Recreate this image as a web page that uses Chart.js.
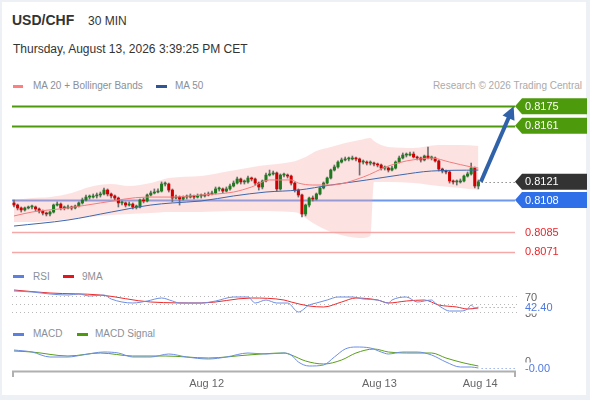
<!DOCTYPE html>
<html>
<head>
<meta charset="utf-8">
<script src="https://cdn.jsdelivr.net/npm/chart.js@4.4.1/dist/chart.umd.min.js"></script>
<style>
html, body { margin: 0; padding: 0; background: #edf1f5; width: 590px; height: 400px; overflow: hidden; }
#card { position: absolute; left: 2px; top: 2px; width: 584px; height: 393px; background: #fff; }
.t { position: absolute; white-space: nowrap; font-family: "Liberation Sans", Arial, sans-serif; line-height: 1; }
.sw { position: absolute; height: 3px; }
canvas { position: absolute; left: 0; }
</style>
</head>
<body>
<div id="card"></div>

<div class="t" style="left:12px;top:13px;font-size:14px;font-weight:bold;color:#333">USD/CHF</div>
<div class="t" style="left:88px;top:15px;font-size:12px;color:#333">30 MIN</div>
<div class="t" style="left:13px;top:43px;font-size:12px;color:#333">Thursday, August 13, 2026 3:39:25 PM CET</div>

<div class="sw" style="left:13px;top:85px;width:10px;background:#ff7f7f"></div>
<div class="t" style="left:33px;top:81px;font-size:10px;color:#8a8f99">MA 20 + Bollinger Bands</div>
<div class="sw" style="left:156px;top:85px;width:11px;background:#2f5597"></div>
<div class="t" style="left:175px;top:81px;font-size:10px;color:#8a8f99">MA 50</div>
<div class="t" style="right:8px;top:81px;font-size:10px;color:#aaa">Research © 2026 Trading Central</div>

<div class="sw" style="left:13px;top:275px;width:11px;background:#5b80e0"></div>
<div class="t" style="left:33px;top:272px;font-size:10px;color:#8a8f99">RSI</div>
<div class="sw" style="left:63px;top:275px;width:11px;background:#e8141b"></div>
<div class="t" style="left:82px;top:272px;font-size:10px;color:#8a8f99">9MA</div>

<div class="sw" style="left:13px;top:333px;width:11px;background:#5b80e0"></div>
<div class="t" style="left:33px;top:329px;font-size:10px;color:#8a8f99">MACD</div>
<div class="sw" style="left:77px;top:333px;width:11px;background:#4d9a0c"></div>
<div class="t" style="left:95px;top:329px;font-size:10px;color:#8a8f99">MACD Signal</div>

<canvas id="main" width="590" height="175" style="top:90px"></canvas>
<canvas id="rsi" width="590" height="31" style="top:286px"></canvas>
<canvas id="macd" width="590" height="60" style="top:340px"></canvas>

<script>
// 30 min candles, one per index
const opens = [
    0.81059,0.81044,0.81023,0.81009,0.81023,0.81030,0.81030,0.81016,0.81001,0.80987,
    0.80980,0.80994,0.81044,0.81051,0.81023,0.81023,0.81030,0.81023,0.81037,0.81059,
    0.81080,0.81101,0.81101,0.81109,0.81116,0.81123,0.81151,0.81123,0.81109,0.81094,
    0.81059,0.81059,0.81044,0.81051,0.81030,0.81030,0.81080,0.81073,0.81116,0.81130,
    0.81137,0.81144,0.81194,0.81194,0.81151,0.81094,0.81101,0.81087,0.81101,0.81101,
    0.81109,0.81101,0.81109,0.81109,0.81116,0.81123,0.81130,0.81159,0.81159,0.81144,
    0.81159,0.81180,0.81201,0.81230,0.81209,0.81209,0.81237,0.81230,0.81201,0.81173,
    0.81216,0.81258,0.81266,0.81273,0.81159,0.81258,0.81258,0.81251,0.81201,0.81151,
    0.81116,0.80980,0.81044,0.81094,0.81087,0.81123,0.81166,0.81201,0.81237,0.81294,
    0.81316,0.81351,0.81366,0.81373,0.81373,0.81380,0.81373,0.81351,0.81351,0.81344,
    0.81344,0.81337,0.81330,0.81308,0.81308,0.81294,0.81308,0.81351,0.81380,0.81401,
    0.81401,0.81408,0.81387,0.81380,0.81366,0.81394,0.81380,0.81380,0.81359,0.81301,
    0.81287,0.81280,0.81216,0.81209,0.81209,0.81216,0.81251,0.81266,0.81308,0.81180
];
const highs = [
    0.81080,0.81051,0.81030,0.81030,0.81037,0.81044,0.81037,0.81023,0.81009,0.80994,
    0.81001,0.81051,0.81066,0.81059,0.81037,0.81044,0.81037,0.81044,0.81066,0.81094,
    0.81116,0.81116,0.81123,0.81130,0.81137,0.81166,0.81159,0.81130,0.81116,0.81101,
    0.81073,0.81066,0.81066,0.81059,0.81044,0.81087,0.81094,0.81123,0.81144,0.81159,
    0.81159,0.81209,0.81209,0.81201,0.81159,0.81116,0.81109,0.81109,0.81116,0.81123,
    0.81116,0.81123,0.81123,0.81130,0.81137,0.81144,0.81173,0.81173,0.81166,0.81173,
    0.81194,0.81216,0.81244,0.81237,0.81223,0.81251,0.81244,0.81237,0.81209,0.81223,
    0.81273,0.81294,0.81287,0.81280,0.81266,0.81273,0.81266,0.81258,0.81209,0.81159,
    0.81123,0.81051,0.81101,0.81109,0.81130,0.81173,0.81209,0.81244,0.81301,0.81330,
    0.81359,0.81380,0.81387,0.81387,0.81394,0.81387,0.81380,0.81366,0.81359,0.81359,
    0.81351,0.81344,0.81337,0.81323,0.81316,0.81323,0.81359,0.81394,0.81416,0.81416,
    0.81423,0.81423,0.81394,0.81387,0.81401,0.81458,0.81394,0.81387,0.81366,0.81308,
    0.81294,0.81287,0.81223,0.81223,0.81230,0.81258,0.81280,0.81344,0.81316,0.81223
];
const lows = [
    0.81030,0.81009,0.80994,0.81001,0.81016,0.81016,0.81001,0.80987,0.80973,0.80966,
    0.80966,0.80987,0.81037,0.81009,0.81009,0.81016,0.81009,0.81016,0.81030,0.81051,
    0.81073,0.81087,0.81094,0.81094,0.81101,0.81116,0.81109,0.81094,0.81080,0.81030,
    0.81044,0.81030,0.81037,0.81016,0.81016,0.81023,0.81059,0.81066,0.81109,0.81123,
    0.81130,0.81137,0.81180,0.81137,0.81066,0.81087,0.81044,0.81080,0.81087,0.81094,
    0.81087,0.81094,0.81094,0.81101,0.81109,0.81116,0.81123,0.81144,0.81130,0.81137,
    0.81151,0.81173,0.81194,0.81194,0.81194,0.81201,0.81216,0.81187,0.81151,0.81159,
    0.81209,0.81251,0.81258,0.81144,0.81151,0.81244,0.81237,0.81187,0.81137,0.81101,
    0.80959,0.80966,0.81030,0.81073,0.81080,0.81116,0.81159,0.81194,0.81230,0.81287,
    0.81308,0.81344,0.81359,0.81359,0.81366,0.81359,0.81258,0.81337,0.81330,0.81330,
    0.81323,0.81316,0.81294,0.81294,0.81280,0.81287,0.81301,0.81344,0.81373,0.81387,
    0.81394,0.81380,0.81366,0.81351,0.81359,0.81373,0.81366,0.81351,0.81287,0.81273,
    0.81266,0.81201,0.81194,0.81187,0.81201,0.81209,0.81244,0.81258,0.81166,0.81159
];
const closes = [
    0.81044,0.81023,0.81009,0.81023,0.81030,0.81030,0.81016,0.81001,0.80987,0.80980,
    0.80994,0.81044,0.81051,0.81023,0.81023,0.81030,0.81023,0.81037,0.81059,0.81080,
    0.81101,0.81101,0.81109,0.81116,0.81123,0.81151,0.81123,0.81109,0.81094,0.81059,
    0.81059,0.81044,0.81051,0.81030,0.81030,0.81080,0.81073,0.81116,0.81130,0.81137,
    0.81144,0.81194,0.81194,0.81151,0.81094,0.81101,0.81087,0.81101,0.81101,0.81109,
    0.81101,0.81109,0.81109,0.81116,0.81123,0.81130,0.81159,0.81159,0.81144,0.81159,
    0.81180,0.81201,0.81230,0.81209,0.81209,0.81237,0.81230,0.81201,0.81173,0.81216,
    0.81258,0.81266,0.81273,0.81159,0.81258,0.81258,0.81251,0.81201,0.81151,0.81116,
    0.80980,0.81044,0.81094,0.81087,0.81123,0.81166,0.81201,0.81237,0.81294,0.81316,
    0.81351,0.81366,0.81373,0.81373,0.81380,0.81373,0.81351,0.81351,0.81344,0.81344,
    0.81337,0.81330,0.81308,0.81308,0.81294,0.81308,0.81351,0.81380,0.81401,0.81401,
    0.81408,0.81387,0.81380,0.81366,0.81394,0.81380,0.81380,0.81359,0.81301,0.81287,
    0.81280,0.81216,0.81209,0.81209,0.81216,0.81251,0.81266,0.81308,0.81180,0.81210
];

// MA 20 / MA 50 / Bollinger bands, read at candle indexes
const ma20Idx = [0, 5, 15, 24, 37, 44, 52, 61, 66, 71, 77, 79, 83, 88, 97, 104, 109, 113, 116, 121, 127, 129];
const ma20 = [0.80966, 0.80994, 0.81023, 0.81059, 0.81101, 0.81101, 0.81116, 0.81137, 0.81173, 0.81223, 0.81223,
    0.81201, 0.81187, 0.81187, 0.81244, 0.81323, 0.81359, 0.81373, 0.81380, 0.81351, 0.81316, 0.81308];
const ma50Idx = [0, 15, 27, 38, 44, 52, 61, 70, 79, 88, 98, 107, 116, 129];
const ma50 = [0.80894, 0.80937, 0.80994, 0.81044, 0.81059, 0.81073, 0.81109, 0.81137, 0.81151, 0.81187, 0.81223,
    0.81258, 0.81287, 0.81294];
const bbIdx = [0, 5, 10, 16, 21, 27, 32, 38, 43, 52, 60, 68, 77, 79, 81, 84, 88, 92, 96, 99, 100, 104, 111, 118, 124, 129];
const bbUpper = [0.81080, 0.81094, 0.81101, 0.81130, 0.81173, 0.81194, 0.81180, 0.81201, 0.81237, 0.81251, 0.81287,
    0.81323, 0.81351, 0.81366, 0.81387, 0.81430, 0.81458, 0.81487, 0.81508, 0.81523, 0.81501, 0.81458, 0.81451,
    0.81473, 0.81473, 0.81466];
const bbLower = [0.80923, 0.80923, 0.80930, 0.80944, 0.80959, 0.80973, 0.80980, 0.80987, 0.80994, 0.80994, 0.81001,
    0.81001, 0.80994, 0.80987, 0.80951, 0.80901, 0.80852, 0.80823, 0.80809, 0.80823, 0.81209, 0.81209, 0.81201,
    0.81180, 0.81166, 0.81151];

// key levels
const levels = [0.8175, 0.8161, 0.8108, 0.8085, 0.8071];
const levelKinds = ['resistance', 'resistance', 'pivot', 'support', 'support'];
const lastPrice = 0.8121;
const arrowTarget = 0.8175;
const arrowEndIdx = 138.8;

// RSI and its 9 period average
const rsiIdx = [0, 5, 10, 15, 18, 21, 25, 27, 33, 37, 41, 44, 46, 52, 56, 61, 65, 67, 70, 73, 76, 79, 82, 84, 87, 90,
    94, 97, 101, 104, 105, 109, 112, 116, 117, 119, 121, 124, 126, 127, 128, 129];
const rsi = [82.5, 80, 75, 72.5, 75, 70, 72.5, 62.5, 52.5, 57.5, 65, 57.5, 52.5, 52.5, 57.5, 67.5, 67.5, 52.5, 60, 52.5,
    52.5, 30, 47.5, 52.5, 60, 67.5, 67.5, 62.5, 60, 52.5, 60, 67.5, 55, 60, 52.5, 40, 32.5, 32.5, 37.5, 47.5, 40, 42.4];
const rsiMaIdx = [0, 10, 24, 38, 52, 66, 75, 77, 82, 86, 91, 95, 101, 104, 109, 114, 118, 123, 126, 129];
const rsiMa = [85, 77.5, 72.5, 55, 52.5, 65, 60, 55, 45, 42.5, 55, 65, 60, 52.5, 57.5, 60, 47.5, 42.5, 37.5, 40];
const rsiLevels = [70, 50, 30];
const rsiTicks = [70, 30];

// MACD
const macdIdx = [0, 5, 10, 15, 19, 25, 29, 33, 38, 43, 48, 54, 59, 65, 70, 75, 77, 79, 82, 86, 89, 92, 95, 99, 102, 104,
    108, 112, 116, 120, 124, 127, 129];
const macd = [0.0006, 0.0005, 0.00025, 0.00025, 0.00035, 0.0005, 0.00045, 0.00025, 0.00025, 0.0004, 0.00025, 0.00015,
    0.00025, 0.00045, 0.0004, 0.00045, 0.00035, 0, -0.0002, -0.00015, 0.00025, 0.00065, 0.00075, 0.0007, 0.0005, 0.0004,
    0.0005, 0.0005, 0.00035, 0, -0.00025, -0.00025, -0.0003];
const signalIdx = [0, 5, 15, 24, 33, 42, 54, 65, 75, 77, 81, 86, 91, 95, 100, 104, 109, 116, 120, 125, 129];
const signal = [0.00055, 0.0005, 0.0003, 0.00045, 0.0003, 0.0003, 0.0002, 0.00035, 0.00045, 0.00035, 0.00005, -0.0001,
    0.0001, 0.00045, 0.00065, 0.0005, 0.00045, 0.00045, 0.0002, -0.00005, -0.0002];

// time axis
const dayTicks = [53.5, 101.5, 129.5];
const dayLabels = ['Aug 12', 'Aug 13', 'Aug 14'];

const X_MIN = -0.55, X_MAX = 139.45;
const FONT = '11px "Liberation Sans", Arial, sans-serif';
const UP = '#1f7a1f', DOWN = '#d10000';
const BLUE_TXT = '#4f78e0';

const pts = (xs, ys) => xs.map((x, k) => ({ x, y: ys[k] }));
const lastIdx = closes.length - 1;

function baseOptions(yMin, yMax, padBottom) {
    return {
        responsive: false,
        animation: false,
        events: [],
        layout: { padding: { left: 12, right: 74, top: 0, bottom: padBottom } },
        scales: {
            x: { type: 'linear', min: X_MIN, max: X_MAX, offset: false, display: false },
            y: { min: yMin, max: yMax, display: false }
        },
        plugins: { legend: { display: false }, tooltip: { enabled: false } }
    };
}

function lineSet(data, color, order) {
    return {
        type: 'line', data, borderColor: color, borderWidth: 1, pointRadius: 0,
        fill: false, cubicInterpolationMode: 'monotone', order
    };
}

function hLine(ctx, x0, x1, py, color, width, dash) {
    ctx.save();
    ctx.strokeStyle = color;
    ctx.lineWidth = width;
    ctx.setLineDash(dash || []);
    ctx.beginPath();
    ctx.moveTo(x0, py);
    ctx.lineTo(x1, py);
    ctx.stroke();
    ctx.restore();
}

// price tag with a notch pointing at the line
function tag(ctx, tipX, py, text, fill) {
    const bx = tipX + 7, ex = tipX + 72, h = 16;
    ctx.save();
    ctx.fillStyle = fill;
    ctx.beginPath();
    ctx.moveTo(tipX, py);
    ctx.lineTo(bx, py - h / 2);
    ctx.lineTo(ex, py - h / 2);
    ctx.lineTo(ex, py + h / 2);
    ctx.lineTo(bx, py + h / 2);
    ctx.closePath();
    ctx.fill();
    ctx.fillStyle = '#fff';
    ctx.font = FONT;
    ctx.textBaseline = 'middle';
    ctx.fillText(text, bx + 3, py + 0.5);
    ctx.restore();
}

// value label on a white plate
function plate(ctx, x, py, text, color) {
    ctx.save();
    ctx.fillStyle = '#fff';
    ctx.fillRect(x - 2, py - 6, 40, 12);
    ctx.fillStyle = color;
    ctx.font = FONT;
    ctx.textBaseline = 'middle';
    ctx.fillText(text, x, py + 0.5);
    ctx.restore();
}

const levelPlugin = {
    id: 'levels',
    beforeDatasetsDraw(chart) {
        const { ctx, chartArea: a, scales: { y } } = chart;
        levels.forEach((v, k) => {
            const py = Math.round(y.getPixelForValue(v)) + 0.5;
            const kind = levelKinds[k];
            if (kind === 'resistance') hLine(ctx, a.left, a.right - 1, py, '#4d9a0c', 2);
            else if (kind === 'pivot') hLine(ctx, a.left, a.right - 1, py, '#6d98ec', 2);
            else hLine(ctx, a.left, a.right - 1, py, '#f5a8a8', 1.5);
        });
    },
    afterDatasetsDraw(chart) {
        const { ctx, chartArea: a, scales: { x, y } } = chart;
        const tipX = a.right - 1;

        // current price
        const lp = Math.round(y.getPixelForValue(lastPrice)) + 0.5;
        hLine(ctx, x.getPixelForValue(lastIdx + 0.9), tipX, lp, '#555', 1, [1, 3]);

        // projection arrow
        const x0 = x.getPixelForValue(lastIdx + 0.7), y0 = y.getPixelForValue(lastPrice);
        const x1 = x.getPixelForValue(arrowEndIdx), y1 = y.getPixelForValue(arrowTarget);
        const len = Math.hypot(x1 - x0, y1 - y0);
        const ux = (x1 - x0) / len, uy = (y1 - y0) / len;
        const hl = 13, hw = 6.5;
        const bx = x1 - ux * hl, by = y1 - uy * hl;
        ctx.save();
        ctx.strokeStyle = '#2f62a8';
        ctx.fillStyle = '#2f62a8';
        ctx.lineWidth = 4;
        ctx.beginPath();
        ctx.moveTo(x0, y0);
        ctx.lineTo(bx + ux * 2, by + uy * 2);
        ctx.stroke();
        ctx.beginPath();
        ctx.moveTo(x1, y1);
        ctx.lineTo(bx - uy * hw, by + ux * hw);
        ctx.lineTo(bx + uy * hw, by - ux * hw);
        ctx.closePath();
        ctx.fill();
        ctx.restore();

        levels.forEach((v, k) => {
            const py = y.getPixelForValue(v);
            const kind = levelKinds[k];
            if (kind === 'support') {
                ctx.save();
                ctx.fillStyle = '#e8262a';
                ctx.font = FONT;
                ctx.textBaseline = 'middle';
                ctx.fillText(v.toFixed(4), tipX + 10, py + 0.5);
                ctx.restore();
            } else {
                tag(ctx, tipX, py, v.toFixed(4), kind === 'resistance' ? '#4d9a0c' : '#2f6fe8');
            }
        });
        tag(ctx, tipX, y.getPixelForValue(lastPrice), lastPrice.toFixed(4), '#333');
    }
};

new Chart(document.getElementById('main'), {
    type: 'bar',
    data: {
        datasets: [
            {
                type: 'line', data: pts(bbIdx, bbUpper), borderColor: 'transparent', borderWidth: 0,
                backgroundColor: 'rgba(248,160,160,0.3)', fill: '+1', pointRadius: 0,
                cubicInterpolationMode: 'monotone', order: 6
            },
            {
                type: 'line', data: pts(bbIdx, bbLower), borderColor: 'transparent', borderWidth: 0,
                fill: false, pointRadius: 0, cubicInterpolationMode: 'monotone', order: 6
            },
            lineSet(pts(ma50Idx, ma50), '#3d67ad', 2),
            lineSet(pts(ma20Idx, ma20), '#f47c7c', 1),
            {
                type: 'bar', data: closes.map((c, i) => ({ x: i, y: [lows[i], highs[i]] })),
                backgroundColor: '#6f6f6f', barThickness: 1, grouped: false, order: 4
            },
            {
                type: 'bar', data: closes.map((c, i) => ({ x: i, y: [opens[i], c] })),
                backgroundColor: ctx => closes[ctx.dataIndex] >= opens[ctx.dataIndex] ? UP : DOWN,
                barThickness: 2.4, minBarLength: 1, grouped: false, order: 3
            }
        ]
    },
    options: baseOptions(0.806157, 0.818657, 0),
    plugins: [levelPlugin]
});

const rsiPlugin = {
    id: 'rsiLevels',
    beforeDatasetsDraw(chart) {
        const { ctx, chartArea: a, scales: { y } } = chart;
        rsiLevels.forEach(v => {
            hLine(ctx, a.left, a.right + 1, Math.round(y.getPixelForValue(v)) + 0.5, '#b8b8b8', 1, [1, 3]);
        });
    },
    afterDatasetsDraw(chart) {
        const { ctx, chartArea: a, scales: { x, y } } = chart;
        ctx.save();
        ctx.fillStyle = '#666';
        ctx.font = FONT;
        ctx.textBaseline = 'middle';
        rsiTicks.forEach(v => ctx.fillText(String(v), a.right + 9, y.getPixelForValue(v) + 2));
        ctx.restore();
        const last = rsi[rsi.length - 1];
        const py = Math.round(y.getPixelForValue(last)) + 0.5;
        hLine(ctx, x.getPixelForValue(lastIdx + 0.9), a.right - 1, py, '#6c8ee6', 1, [1, 3]);
        plate(ctx, a.right + 9, py, last.toFixed(2), BLUE_TXT);
    }
};

new Chart(document.getElementById('rsi'), {
    type: 'line',
    data: {
        datasets: [
            lineSet(pts(rsiMaIdx, rsiMa), '#ee2a2a', 2),
            lineSet(pts(rsiIdx, rsi), '#6c8ee6', 1)
        ]
    },
    options: baseOptions(17.5, 95, 0),
    plugins: [rsiPlugin]
});

const macdPlugin = {
    id: 'macdAxis',
    afterDatasetsDraw(chart) {
        const { ctx, chartArea: a, scales: { x, y } } = chart;
        ctx.save();
        ctx.fillStyle = '#666';
        ctx.font = FONT;
        ctx.textBaseline = 'middle';
        ctx.fillText('0', a.right + 9, y.getPixelForValue(0));
        ctx.restore();

        const last = macd[macd.length - 1];
        const py = Math.round(y.getPixelForValue(last)) + 0.5;
        hLine(ctx, x.getPixelForValue(lastIdx + 0.9), a.right - 1, py, '#6c8ee6', 1, [1, 3]);
        plate(ctx, a.right + 9, py, last.toFixed(2), BLUE_TXT);

        // time axis
        ctx.save();
        ctx.strokeStyle = '#b0b0b0';
        ctx.lineWidth = 2;
        ctx.beginPath();
        ctx.moveTo(a.left, a.bottom + 0.5);
        ctx.lineTo(a.right, a.bottom + 0.5);
        ctx.moveTo(a.left + 1, a.bottom);
        ctx.lineTo(a.left + 1, a.bottom + 6);
        ctx.moveTo(a.right - 1, a.bottom);
        ctx.lineTo(a.right - 1, a.bottom + 6);
        ctx.stroke();
        ctx.fillStyle = '#666';
        ctx.font = FONT;
        ctx.textAlign = 'center';
        ctx.textBaseline = 'alphabetic';
        dayTicks.forEach((t, k) => ctx.fillText(dayLabels[k], x.getPixelForValue(t), a.bottom + 16));
        ctx.restore();
    }
};

new Chart(document.getElementById('macd'), {
    type: 'line',
    data: {
        datasets: [
            lineSet(pts(signalIdx, signal), '#5a9e1a', 2),
            lineSet(pts(macdIdx, macd), '#6c8ee6', 1)
        ]
    },
    options: baseOptions(-0.00045, 0.0011, 29),
    plugins: [macdPlugin]
});
</script>
</body>
</html>
